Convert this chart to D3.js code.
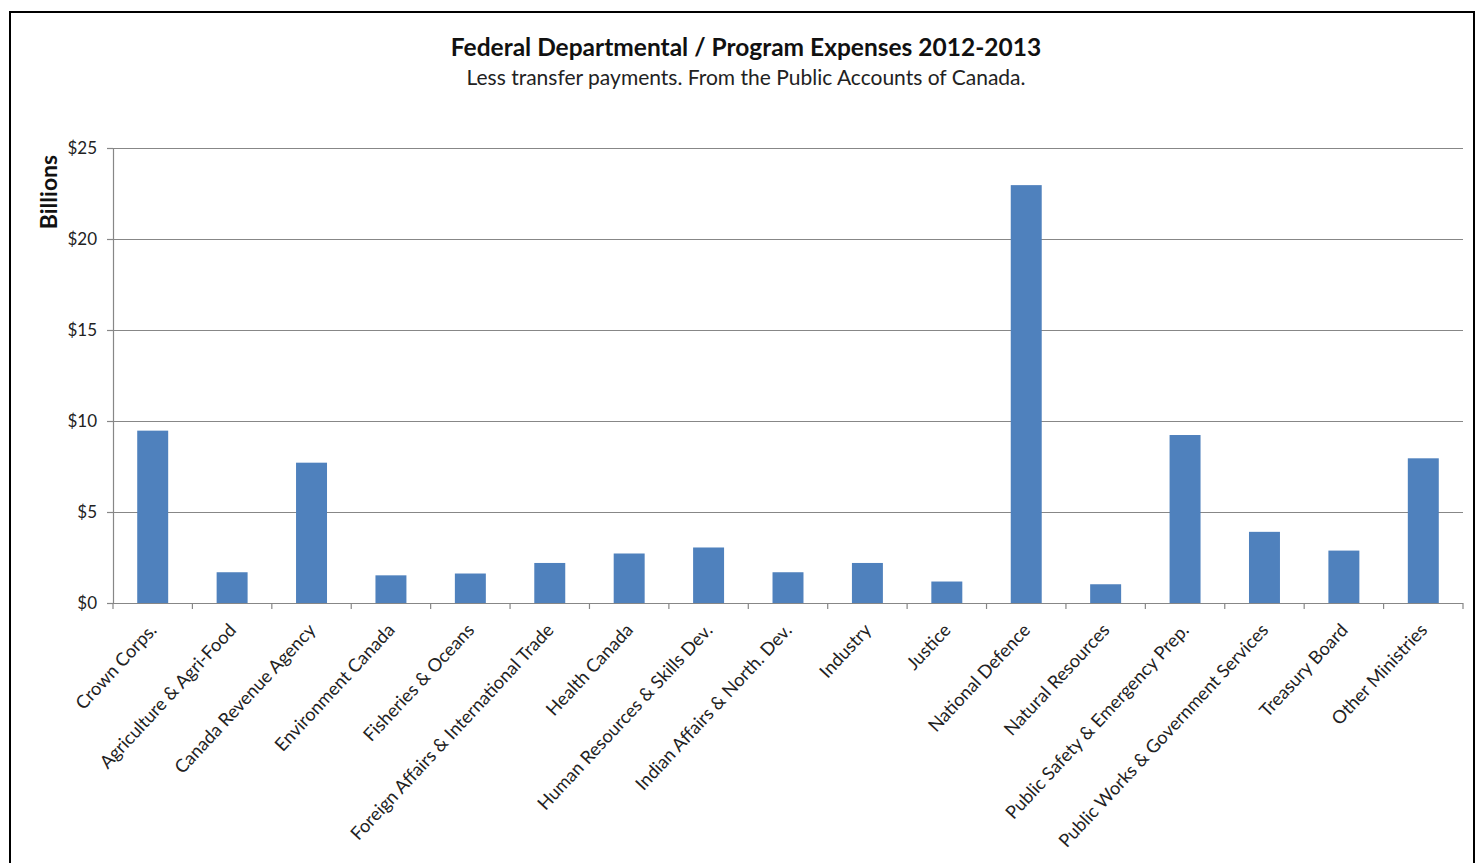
<!DOCTYPE html>
<html>
<head>
<meta charset="utf-8">
<script src="https://cdn.jsdelivr.net/npm/d3@7"></script>
<style>
  html, body { margin: 0; padding: 0; background: #fff; }
  svg { display: block; }
</style>
</head>
<body>
<script>
const categories = [
  "Crown Corps.", "Agriculture & Agri-Food", "Canada Revenue Agency", "Environment Canada",
  "Fisheries & Oceans", "Foreign Affairs & International Trade", "Health Canada",
  "Human Resources & Skills Dev.", "Indian Affairs & North. Dev.", "Industry", "Justice",
  "National Defence", "Natural Resources", "Public Safety & Emergency Prep.",
  "Public Works & Government Services", "Treasury Board", "Other Ministries"
];
const values = [9.47, 1.69, 7.71, 1.52, 1.62, 2.20, 2.72, 3.05, 1.69, 2.20, 1.18, 22.96, 1.03, 9.23, 3.91, 2.88, 7.95];
const yTicks = [0, 5, 10, 15, 20, 25];
const yTickLabels = ["$0", "$5", "$10", "$15", "$20", "$25"];
const title = "Federal Departmental / Program Expenses 2012-2013";
const subtitle = "Less transfer payments. From the Public Accounts of Canada.";
const yTitle = "Billions";

(function () {
const W = 1476, H = 863;
const mLeft = 113, mRight = 1463, mTop = 148, mBottom = 603;
const font = "Lato, 'Open Sans', sans-serif";
const gridColor = "#878787";

const svg = d3.select("body").append("svg").attr("width", W).attr("height", H);
svg.append("rect").attr("width", W).attr("height", H).attr("fill", "#fff");

// outer chart border
svg.append("rect").attr("x", 10).attr("y", 12).attr("width", 1464).attr("height", 900)
  .attr("fill", "none").attr("stroke", "#000").attr("stroke-width", 2);

const x = d3.scaleBand().domain(categories).range([mLeft, mRight]).paddingInner(0.61).paddingOuter(0.305);
const y = d3.scaleLinear().domain([0, 25]).range([mBottom, mTop]);

// gridlines
svg.append("g").selectAll("line").data(yTicks.filter(d => d > 0)).join("line")
  .attr("x1", mLeft).attr("x2", mRight)
  .attr("y1", d => y(d) + 0.5).attr("y2", d => y(d) + 0.5)
  .attr("stroke", gridColor).attr("stroke-width", 1.2);

// bars
svg.append("g").selectAll("rect").data(values).join("rect")
  .attr("x", (d, i) => x(categories[i]))
  .attr("width", x.bandwidth())
  .attr("y", d => y(d))
  .attr("height", d => y(0) - y(d))
  .attr("fill", "#4F81BD");

// y axis
const yAxis = d3.axisLeft(y).tickValues(yTicks).tickSize(6).tickSizeOuter(0)
  .tickFormat((d, i) => yTickLabels[i]);
const gy = svg.append("g").attr("transform", `translate(${mLeft},0)`).call(yAxis);
gy.select(".domain").attr("stroke", gridColor).attr("stroke-width", 1.2);
gy.selectAll(".tick line").attr("stroke", gridColor).attr("stroke-width", 1.2);
gy.selectAll(".tick text").attr("x", -16).attr("font-family", font).attr("font-size", 17).attr("fill", "#222");

// x axis line & boundary ticks
const step = x.step();
const boundaries = d3.range(categories.length + 1);
svg.append("line").attr("x1", mLeft).attr("x2", mRight).attr("y1", mBottom + 0.5).attr("y2", mBottom + 0.5)
  .attr("stroke", gridColor).attr("stroke-width", 1.2);
svg.append("g").selectAll("line").data(boundaries).join("line")
  .attr("x1", i => mLeft + i * step).attr("x2", i => mLeft + i * step)
  .attr("y1", mBottom).attr("y2", mBottom + 6)
  .attr("stroke", gridColor).attr("stroke-width", 1.2);

// category labels
svg.append("g").selectAll("text").data(categories).join("text")
  .attr("transform", d => `translate(${x(d) + x.bandwidth() / 2 + 5},${mBottom + 28}) rotate(-47)`)
  .attr("text-anchor", "end")
  .attr("font-family", font).attr("font-size", 18.2).attr("fill", "#222")
  .text(d => d);

// titles
svg.append("text").attr("x", 746).attr("y", 56).attr("text-anchor", "middle")
  .attr("font-family", font).attr("font-weight", "bold").attr("font-size", 24.5).attr("fill", "#111")
  .text(title);
svg.append("text").attr("x", 746).attr("y", 85).attr("text-anchor", "middle")
  .attr("font-family", font).attr("font-size", 21).attr("fill", "#222")
  .text(subtitle);
svg.append("text").attr("transform", `translate(57,192) rotate(-90)`).attr("text-anchor", "middle")
  .attr("font-family", font).attr("font-weight", "bold").attr("font-size", 23).attr("fill", "#111")
  .text(yTitle);
})();
</script>
</body>
</html>
